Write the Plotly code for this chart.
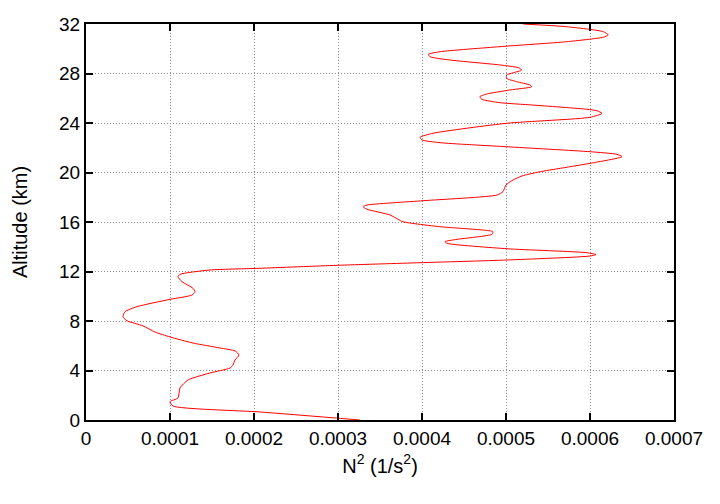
import plotly.graph_objects as go

# N^2 values in units of 1e-4 1/s^2, altitude in km
n2_e4 = [3.262, 2.071, 1.036, 1.0, 1.095, 1.119, 1.214, 1.476, 1.714, 1.75,
         1.774, 1.821, 1.774, 1.595, 1.274, 1.0, 0.821, 0.679, 0.488, 0.440,
         0.464, 0.607, 1.0, 1.262, 1.298, 1.274, 1.143, 1.095, 1.119, 1.476,
         2.071, 2.988, 3.976, 5.012, 6.0, 6.071, 5.964, 5.012, 4.298, 4.274,
         4.417, 4.833, 4.845, 4.726, 4.214, 3.774, 3.714, 3.619, 3.345, 3.298,
         3.345, 4.012, 4.893, 4.964, 5.0, 5.083, 5.190, 5.405, 6.0, 6.381,
         6.321, 6.0, 5.012, 4.214, 4.0, 3.976, 4.131, 5.012, 6.0, 6.143,
         6.083, 5.964, 5.321, 4.929, 4.711, 4.690, 4.770, 5.048, 5.306, 5.286,
         5.127, 5.008, 5.008, 5.087, 5.187, 5.146, 4.929, 4.333, 4.095, 4.075,
         4.214, 4.929, 5.723, 6.158, 6.218, 6.158, 5.723, 5.206]
altitude_km = [0.0, 0.65, 1.13, 1.48, 1.78, 2.59, 3.23, 3.80, 4.20, 4.44,
               4.85, 5.25, 5.58, 5.82, 6.22, 6.71, 7.11, 7.60, 8.02, 8.35,
               8.75, 9.16, 9.75, 10.10, 10.37, 10.64, 11.18, 11.58, 11.77, 12.12,
               12.26, 12.50, 12.71, 12.93, 13.25, 13.37, 13.52, 13.84, 14.28, 14.41,
               14.60, 15.01, 15.22, 15.35, 15.62, 16.02, 16.22, 16.57, 17.03, 17.24,
               17.37, 17.72, 18.18, 18.45, 18.99, 19.39, 19.72, 20.06, 20.74, 21.28,
               21.47, 21.68, 22.08, 22.41, 22.63, 22.84, 23.17, 23.98, 24.46, 24.78,
               24.99, 25.11, 25.45, 25.64, 25.92, 26.13, 26.34, 26.67, 26.93, 27.07,
               27.34, 27.61, 27.88, 28.06, 28.28, 28.47, 28.69, 29.09, 29.36, 29.55,
               29.76, 30.17, 30.57, 30.93, 31.11, 31.38, 31.78, 32.0]
n2 = [v * 1e-4 for v in n2_e4]

x_tickvals = [0, 0.0001, 0.0002, 0.0003, 0.0004, 0.0005, 0.0006, 0.0007]
x_ticktext = ["0", "0.0001", "0.0002", "0.0003", "0.0004", "0.0005", "0.0006", "0.0007"]
y_tickvals = [0, 4, 8, 12, 16, 20, 24, 28, 32]

FONT = "Liberation Sans, Arial, sans-serif"

fig = go.Figure()
fig.add_trace(go.Scatter(x=n2, y=altitude_km, mode="lines",
                         line=dict(color="#ff0000", width=1, shape="spline", smoothing=0.6),
                         showlegend=False, hoverinfo="skip"))

axis_common = dict(showline=True, linecolor="black", linewidth=2, mirror="ticks",
                   ticks="inside", ticklen=7, tickcolor="black", tickwidth=1.5,
                   showgrid=True, gridcolor="#8c8c8c", griddash="1px,2px", gridwidth=1,
                   zeroline=False,
                   tickfont=dict(family=FONT, size=19, color="black"))

fig.update_xaxes(range=[0, 0.0007], tickvals=x_tickvals, ticktext=x_ticktext,
                 title=dict(text="N<sup>2</sup> (1/s<sup>2</sup>)", standoff=11,
                            font=dict(family=FONT, size=20, color="black")),
                 **axis_common)
fig.update_yaxes(range=[0, 32], tickvals=y_tickvals,
                 title=dict(text="Altitude (km)", standoff=26,
                            font=dict(family=FONT, size=20, color="black")),
                 **axis_common)

fig.update_layout(width=720, height=504, plot_bgcolor="white", paper_bgcolor="white",
                  margin=dict(l=86, r=46, t=24, b=84, autoexpand=False))

fig.write_html("out.html")
